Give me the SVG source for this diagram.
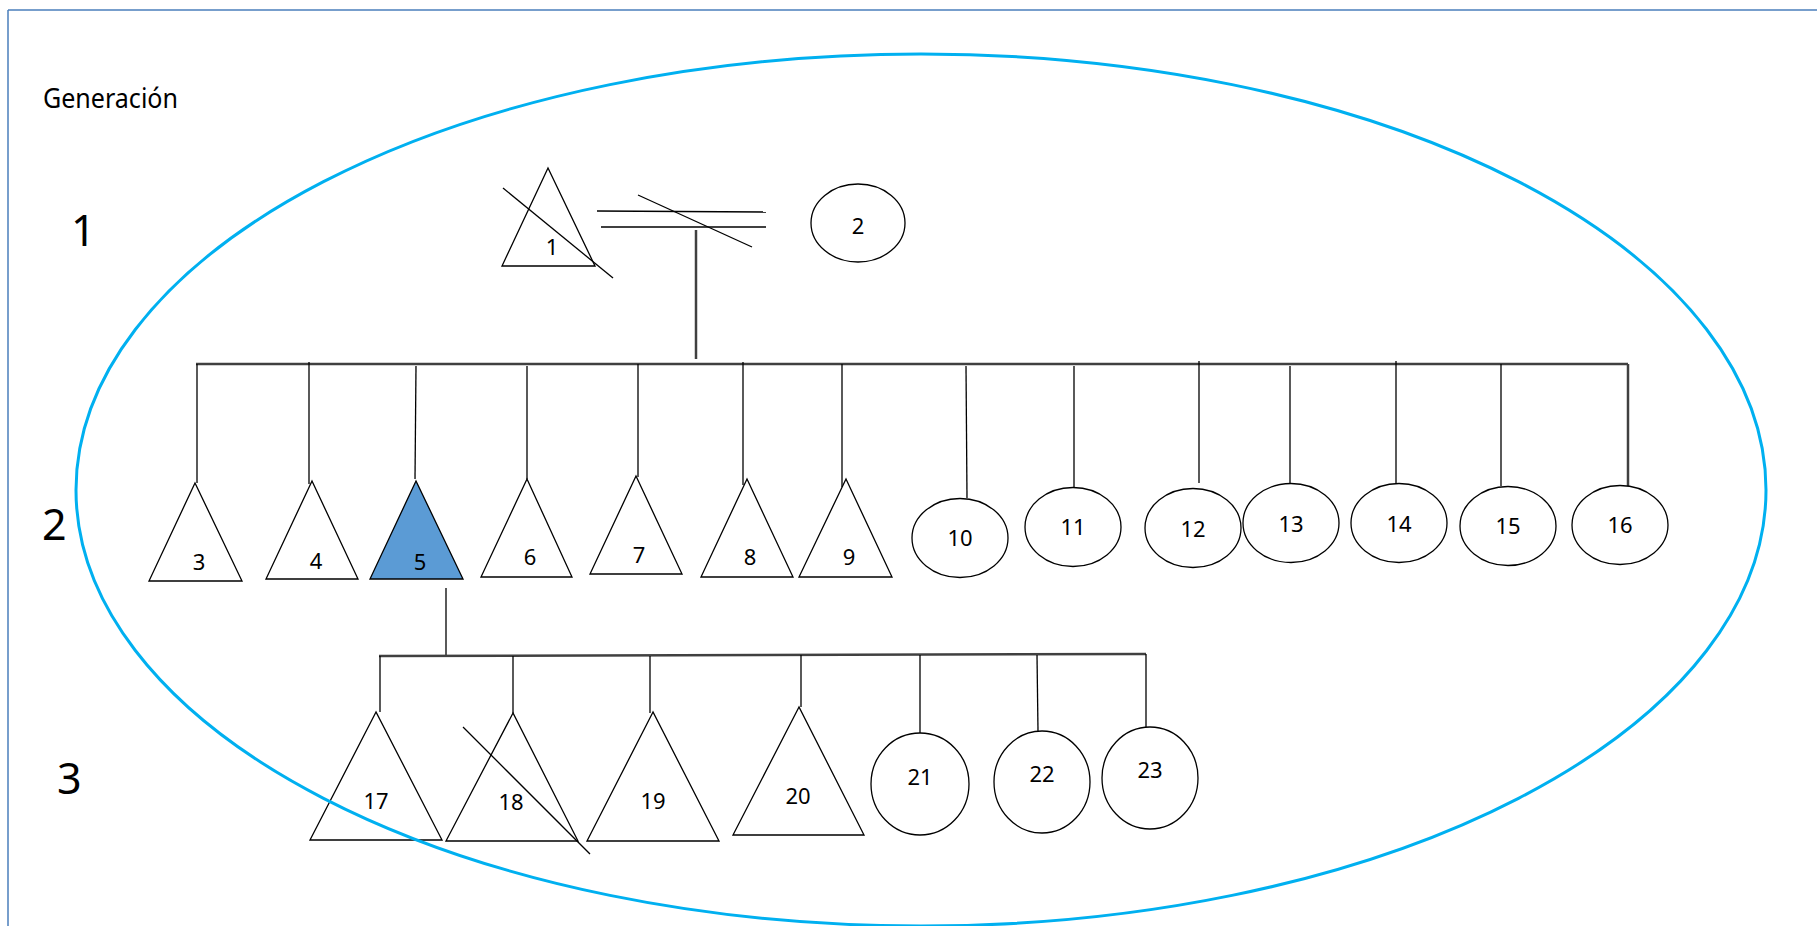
<svg xmlns="http://www.w3.org/2000/svg" width="1817" height="926" viewBox="0 0 1817 926">
<style>
.tri{fill:#fff;stroke:#000;stroke-width:1.3}
.fem{fill:#fff;stroke:#000;stroke-width:1.3}
.blue{fill:#5b9bd5;stroke:#000;stroke-width:1.3}
.lab{font-family:"Noto Sans","Open Sans",sans-serif;font-size:22px;fill:#000;text-anchor:middle}
.gen{font-family:"Noto Sans","Open Sans",sans-serif;font-size:43px;fill:#000}
.ln{stroke:#000;stroke-width:1.3;fill:none}
.bar{stroke:#404040;stroke-width:2.5;fill:none}
</style>
<rect width="1817" height="926" fill="#fff"/>
<g id="frame">
<line x1="8" y1="10" x2="1817" y2="10" stroke="#4a7ebb" stroke-width="1.5"/>
<line x1="8" y1="10" x2="8" y2="926" stroke="#4a7ebb" stroke-width="1.5"/>
</g>
<g id="titles">
<text x="43" y="108" font-family="Noto Sans, Open Sans, sans-serif" font-size="27" textLength="135" lengthAdjust="spacingAndGlyphs">Generación</text>
<text class="gen" x="71" y="246">1</text>
<text class="gen" x="42" y="540">2</text>
<text class="gen" x="57" y="794">3</text>
</g>
<g id="connectors">
<line class="ln" x1="597" y1="211" x2="766" y2="212"/>
<line class="ln" x1="601" y1="227" x2="766" y2="227"/>
<line class="ln" x1="638" y1="195" x2="752" y2="247"/>
<line class="bar" x1="696" y1="230" x2="696" y2="359"/>
<line class="bar" x1="196" y1="364" x2="1628" y2="364"/>
<line class="ln" x1="197" y1="364" x2="197" y2="483"/>
<line class="ln" x1="309" y1="362" x2="309" y2="484"/>
<line class="ln" x1="416" y1="366" x2="415" y2="479"/>
<line class="ln" x1="527" y1="366" x2="527" y2="479"/>
<line class="ln" x1="638" y1="364" x2="638" y2="477"/>
<line class="ln" x1="743" y1="362" x2="743" y2="485"/>
<line class="ln" x1="842" y1="364" x2="842" y2="487" stroke-width="2"/>
<line class="ln" x1="966" y1="366" x2="967" y2="498"/>
<line class="ln" x1="1074" y1="366" x2="1074" y2="487"/>
<line class="ln" x1="1199" y1="361" x2="1199" y2="483"/>
<line class="ln" x1="1290" y1="366" x2="1290" y2="483"/>
<line class="ln" x1="1396" y1="361" x2="1396" y2="483"/>
<line class="ln" x1="1501" y1="364" x2="1501" y2="486"/>
<line class="bar" x1="1628" y1="364" x2="1628" y2="486"/>
<line class="ln" x1="446" y1="588" x2="446" y2="656"/>
<line class="bar" x1="379" y1="656" x2="1146" y2="654"/>
<line class="ln" x1="380" y1="656" x2="380" y2="712"/>
<line class="ln" x1="513" y1="656" x2="513" y2="713"/>
<line class="ln" x1="650" y1="656" x2="650" y2="713"/>
<line class="ln" x1="801" y1="655" x2="801" y2="707"/>
<line class="ln" x1="920" y1="655" x2="920" y2="733"/>
<line class="ln" x1="1037" y1="655" x2="1038" y2="731"/>
<line class="ln" x1="1146" y1="654" x2="1146" y2="727"/>
</g>
<g id="n1"><polygon class="tri" points="548,168 502,266 595,266"/><line class="ln" x1="503" y1="188" x2="613" y2="278"/><text class="lab" x="552" y="255">1</text></g>
<g id="n2"><ellipse class="fem" cx="858" cy="223" rx="47" ry="39"/><text class="lab" x="858" y="234">2</text></g>
<g id="n3"><polygon class="tri" points="195,483 149,581 242,581"/><text class="lab" x="199" y="570">3</text></g>
<g id="n4"><polygon class="tri" points="312,481 266,579 358,579"/><text class="lab" x="316" y="569">4</text></g>
<g id="n5"><polygon class="blue" points="416,481 370,579 463,579"/><text class="lab" x="420" y="570">5</text></g>
<g id="n6"><polygon class="tri" points="527,479 481,577 572,577"/><text class="lab" x="530" y="565">6</text></g>
<g id="n7"><polygon class="tri" points="636,476 590,574 682,574"/><text class="lab" x="639" y="563">7</text></g>
<g id="n8"><polygon class="tri" points="747,479 701,577 793,577"/><text class="lab" x="750" y="565">8</text></g>
<g id="n9"><polygon class="tri" points="846,479 799,577 892,577"/><text class="lab" x="849" y="565">9</text></g>
<g id="n10"><ellipse class="fem" cx="960" cy="538" rx="48" ry="39.5"/><text class="lab" x="960" y="546">10</text></g>
<g id="n11"><ellipse class="fem" cx="1073" cy="527" rx="48" ry="39.5"/><text class="lab" x="1073" y="535">11</text></g>
<g id="n12"><ellipse class="fem" cx="1193" cy="528" rx="48" ry="39.5"/><text class="lab" x="1193" y="537">12</text></g>
<g id="n13"><ellipse class="fem" cx="1291" cy="523" rx="48" ry="39.5"/><text class="lab" x="1291" y="532">13</text></g>
<g id="n14"><ellipse class="fem" cx="1399" cy="523" rx="48" ry="39.5"/><text class="lab" x="1399" y="532">14</text></g>
<g id="n15"><ellipse class="fem" cx="1508" cy="526" rx="48" ry="39.5"/><text class="lab" x="1508" y="534">15</text></g>
<g id="n16"><ellipse class="fem" cx="1620" cy="525" rx="48" ry="39.5"/><text class="lab" x="1620" y="533">16</text></g>
<g id="n17"><polygon class="tri" points="376,712 310,840 442,840"/><text class="lab" x="376" y="809">17</text></g>
<g id="n18"><polygon class="tri" points="513,713 446,841 578,841"/><line class="ln" x1="463" y1="727" x2="590" y2="854"/><text class="lab" x="511" y="810">18</text></g>
<g id="n19"><polygon class="tri" points="653,712 587,841 719,841"/><text class="lab" x="653" y="809">19</text></g>
<g id="n20"><polygon class="tri" points="799,707 733,835 864,835"/><text class="lab" x="798" y="804">20</text></g>
<g id="n21"><ellipse class="fem" cx="920" cy="784" rx="49" ry="51"/><text class="lab" x="920" y="785">21</text></g>
<g id="n22"><ellipse class="fem" cx="1042" cy="782" rx="48" ry="51"/><text class="lab" x="1042" y="782">22</text></g>
<g id="n23"><ellipse class="fem" cx="1150" cy="778" rx="48" ry="51"/><text class="lab" x="1150" y="778">23</text></g>
<ellipse id="generation-ellipse" cx="921" cy="490" rx="845" ry="436" fill="none" stroke="#00b0f0" stroke-width="3"/>
</svg>
